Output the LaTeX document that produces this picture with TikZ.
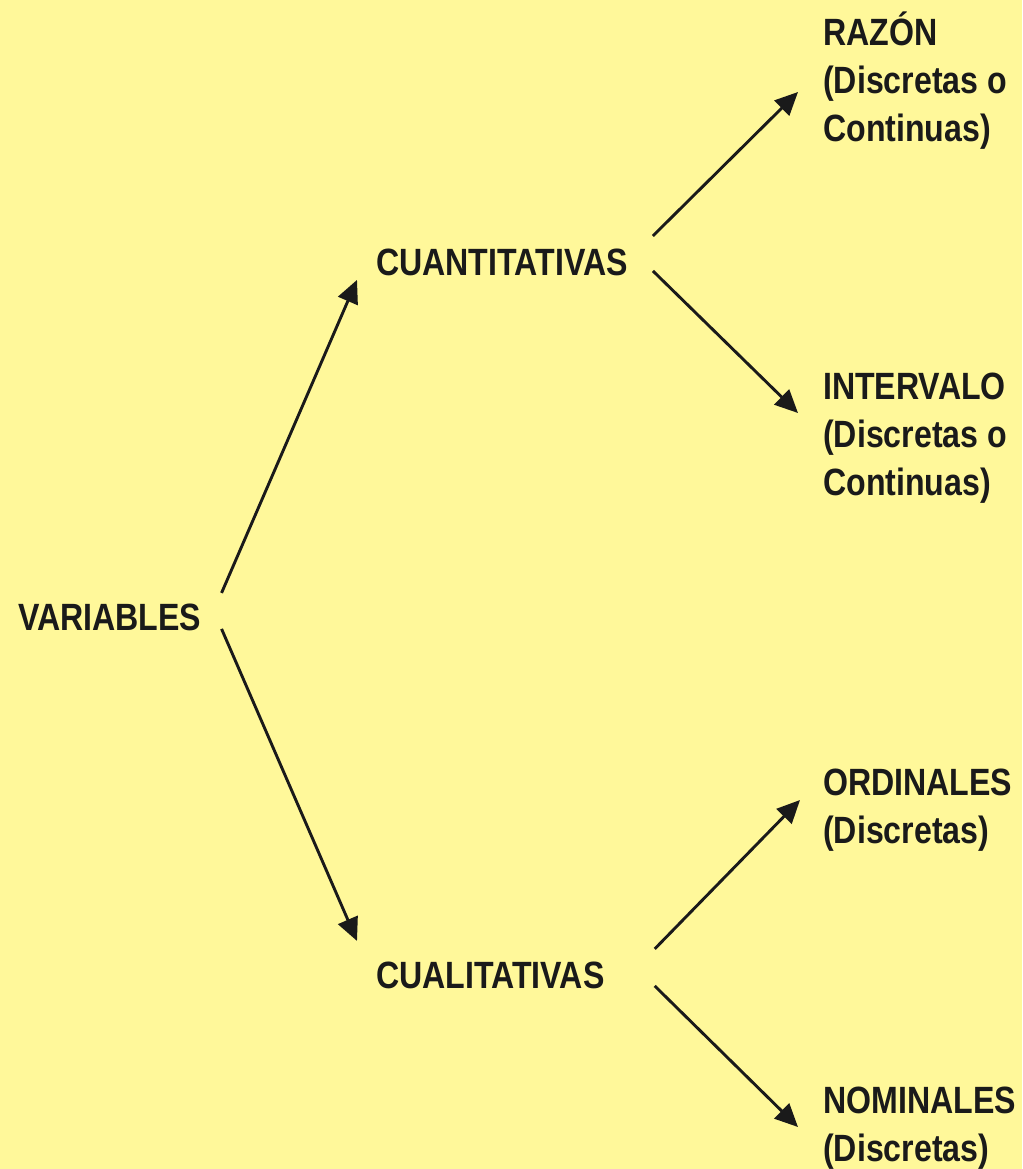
\documentclass[tikz,border=0pt]{standalone}
\usepackage{fontspec}
\setmainfont{Liberation Sans}[FakeStretch=0.845]
\usetikzlibrary{arrows.meta,calc}
\definecolor{bgyellow}{HTML}{FFF89A}
\definecolor{ink}{HTML}{1A1A1A}
\tikzset{
  lbl/.style={inner sep=0pt, text=ink, font=\fontsize{38}{48}\selectfont\bfseries, align=left},
  arr/.style={draw=ink, line width=2.9pt, -{Triangle[length=23pt,width=21pt]}}
}
\newcommand{\topstrut}{\rule{0pt}{36pt}}
\begin{document}
\begin{tikzpicture}[x=1pt,y=-1pt]
\fill[bgyellow] (0,0) rectangle (1022,1169);
\useasboundingbox (0,0) rectangle (1022,1169);
\node[lbl, anchor=base west] (var) at (18,630) {VARIABLES};
\node[lbl, anchor=base west] (cuant) at (376,275) {CUANTITATIVAS};
\node[lbl, anchor=base west] (cual) at (376,988) {CUALITATIVAS};
\node[lbl, anchor=north west] (razon) at (823,9) {\topstrut RAZÓN\\(Discretas o\\Continuas)};
\node[lbl, anchor=north west] (interv) at (823,363) {\topstrut INTERVALO\\(Discretas o\\Continuas)};
\node[lbl, anchor=north west] (ordin) at (823,759) {\topstrut ORDINALES\\(Discretas)};
\node[lbl, anchor=north west] (nomin) at (823,1077) {\topstrut NOMINALES\\(Discretas)};
\draw[arr] ($(var.east)+(20,-24)$) -- ($(cuant.west)+(-19,18)$);
\draw[arr] ($(var.east)+(20,12)$) -- ($(cual.west)+(-19,-34)$);
\draw[arr] ($(cuant.east)+(25,-26)$) -- ($(razon.north west)+(-25,83)$);
\draw[arr] ($(cuant.east)+(25,9)$) -- ($(interv.north west)+(-25,50)$);
\draw[arr] ($(cual.east)+(50,-26)$) -- ($(ordin.north west)+(-23,41)$);
\draw[arr] ($(cual.east)+(50,11)$) -- ($(nomin.north west)+(-25,50)$);
\end{tikzpicture}
\end{document}
